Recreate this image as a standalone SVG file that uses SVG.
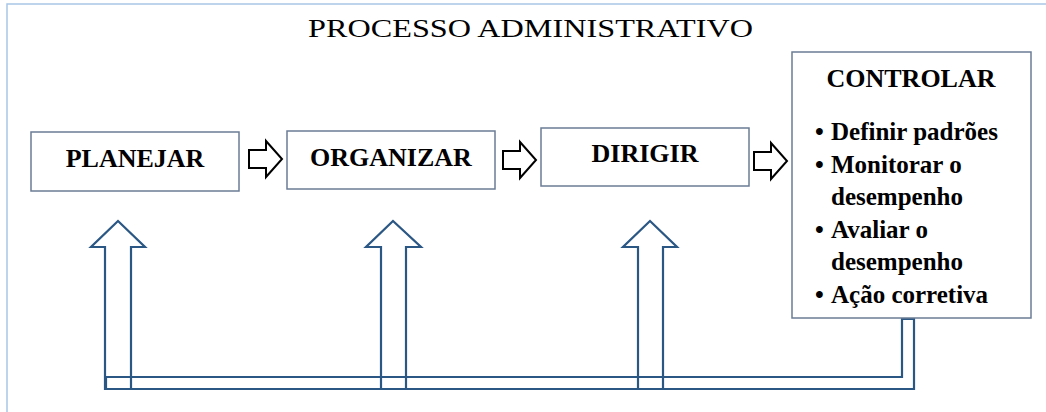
<svg xmlns="http://www.w3.org/2000/svg" width="1046" height="412" viewBox="0 0 1046 412">
  <style>
    .frame { fill: none; stroke: #a9c6e8; stroke-width: 1.5; }
    .box { fill: #ffffff; stroke: #6b7c95; stroke-width: 1.5; }
    .label { font-family: "Liberation Serif", "Times New Roman", serif; font-weight: bold; font-size: 26px; fill: #000000; }
    .item { font-family: "Liberation Serif", "Times New Roman", serif; font-weight: bold; font-size: 25px; fill: #000000; }
    .title { font-family: "Liberation Serif", "Times New Roman", serif; font-size: 26px; fill: #000000; }
    .step { fill: #ffffff; stroke: #000000; stroke-width: 2; stroke-linejoin: miter; }
    .feedback { fill: none; stroke: #2b5785; stroke-width: 2.2; stroke-linejoin: miter; }
  </style>
  <defs>
    <!-- hollow right-pointing block arrow between steps -->
    <path id="stepArrow" d="M0,9 H17 V0 L33,18 L17,36 V27 H0 Z"/>
  </defs>

  <rect width="1046" height="412" fill="#ffffff"/>
  <!-- outer frame -->
  <path class="frame" d="M7,412 V4 H1046"/>

  <text class="title" x="308" y="37" textLength="445" lengthAdjust="spacingAndGlyphs">PROCESSO ADMINISTRATIVO</text>

  <!-- feedback loop: return channel and upward arrows -->
  <g id="connectors">
    <path class="feedback" d="M902,319 H914 V389 H106 V377 H902 Z"/>
    <path class="feedback" d="M105,389 V247 H91 L118,221 L145,247 H131 V389 Z"/>
    <path class="feedback" d="M381,389 V247 H366 L393,221 L421,247 H406 V389 Z"/>
    <path class="feedback" d="M638,389 V247 H623 L650,221 L677,247 H663 V389 Z"/>
    <use href="#stepArrow" class="step" x="249" y="141"/>
    <use href="#stepArrow" class="step" x="503" y="142"/>
    <use href="#stepArrow" class="step" x="754" y="143"/>
  </g>

  <g id="planejar">
    <rect class="box" x="31" y="132" width="208" height="59"/>
    <text class="label" x="135" y="167" text-anchor="middle">PLANEJAR</text>
  </g>

  <g id="organizar">
    <rect class="box" x="287" y="131" width="208" height="58"/>
    <text class="label" x="391" y="166" text-anchor="middle">ORGANIZAR</text>
  </g>

  <g id="dirigir">
    <rect class="box" x="541" y="128" width="208" height="58"/>
    <text class="label" x="645" y="162" text-anchor="middle">DIRIGIR</text>
  </g>

  <g id="controlar">
    <rect class="box" x="792" y="52" width="239" height="266"/>
    <text class="label" x="911" y="87" text-anchor="middle">CONTROLAR</text>
    <g class="item">
      <text x="815" y="140">•</text><text x="831" y="140">Definir padrões</text>
      <text x="815" y="173">•</text><text x="831" y="173">Monitorar o</text>
      <text x="831" y="205">desempenho</text>
      <text x="815" y="238">•</text><text x="831" y="238">Avaliar o</text>
      <text x="831" y="270">desempenho</text>
      <text x="815" y="303">•</text><text x="831" y="303">Ação corretiva</text>
    </g>
  </g>
</svg>
